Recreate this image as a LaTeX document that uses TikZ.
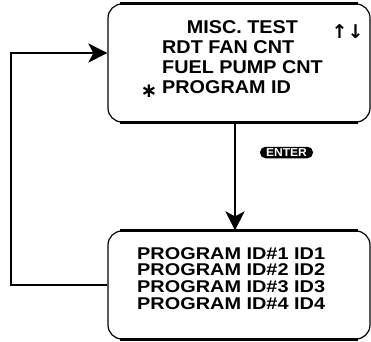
\documentclass[tikz,border=0pt]{standalone}
\usepackage{fontspec}
\usepackage{graphicx}
\setmainfont{Liberation Sans}
\newfontfamily\symfont{DejaVu Sans}
\usetikzlibrary{arrows.meta, positioning}

\begin{document}
\begin{tikzpicture}[
    x=1pt, y=-1pt,
    screen/.style={rectangle, draw, line width=1.2pt, rounded corners=14pt,
                   minimum width=262pt, inner sep=0pt},
    rim/.style={line width=2.8pt},
    arr/.style={-{Stealth[length=19pt, width=19pt, inset=5pt]}, line width=2.8pt},
    key/.style={rectangle, fill=black, text=white, rounded corners=5.5pt,
                minimum width=53pt, minimum height=11.5pt, inner sep=0pt,
                font=\bfseries\fontsize{11.5}{11.5}\selectfont},
    lines/.style={anchor=north west, inner sep=0pt}
]
    \useasboundingbox (0,0) rectangle (371,341);

    % the two screens
    \node[screen, minimum height=118pt] (menu) at (239,63) {};
    \node[screen, minimum height=108pt] (ids) at (239,285) {};
    \draw[rim] ([xshift=13pt]menu.north west) -- ([xshift=-13pt]menu.north east);
    \draw[rim] ([xshift=13pt]menu.south west) -- ([xshift=-13pt]menu.south east);
    \draw[rim] ([xshift=13pt]ids.north west) -- ([xshift=-13pt]ids.north east);
    \draw[rim] ([xshift=13pt]ids.south west) -- ([xshift=-13pt]ids.south east);

    % screen texts
    \node[lines, font=\bfseries\fontsize{18.5}{20}\selectfont] (menutext) at (162,19)
        {\scalebox{1.07}[1]{\begin{tabular}{@{}l@{}}
            \hspace*{23pt}MISC. TEST\\RDT FAN CNT\\FUEL PUMP CNT\\PROGRAM ID
         \end{tabular}}};
    \node[font=\symfont\bfseries\fontsize{20}{20}\selectfont] (star) at (149,91.5) {∗};
    \node[font=\symfont\bfseries\fontsize{19}{19}\selectfont] (updown) at (347.5,32) {↑↓};
    \node[lines, font=\bfseries\fontsize{17}{16.7}\selectfont] (idtext) at (137,247)
        {\scalebox{1.17}[1]{\begin{tabular}{@{}l@{}}
            PROGRAM ID\#1 ID1\\PROGRAM ID\#2 ID2\\PROGRAM ID\#3 ID3\\PROGRAM ID\#4 ID4
         \end{tabular}}};

    \node[key] (enter) at (286.5,152.5) {\scalebox{1.05}[1]{ENTER}};

    % connectors
    \coordinate (drop) at (235,0);
    \coordinate (back) at (11,53);
    \draw[arr] (menu.south -| drop) -- (ids.north -| drop);
    \draw[arr] (ids.west) -| (back) -- (back -| menu.west);
\end{tikzpicture}
\end{document}
